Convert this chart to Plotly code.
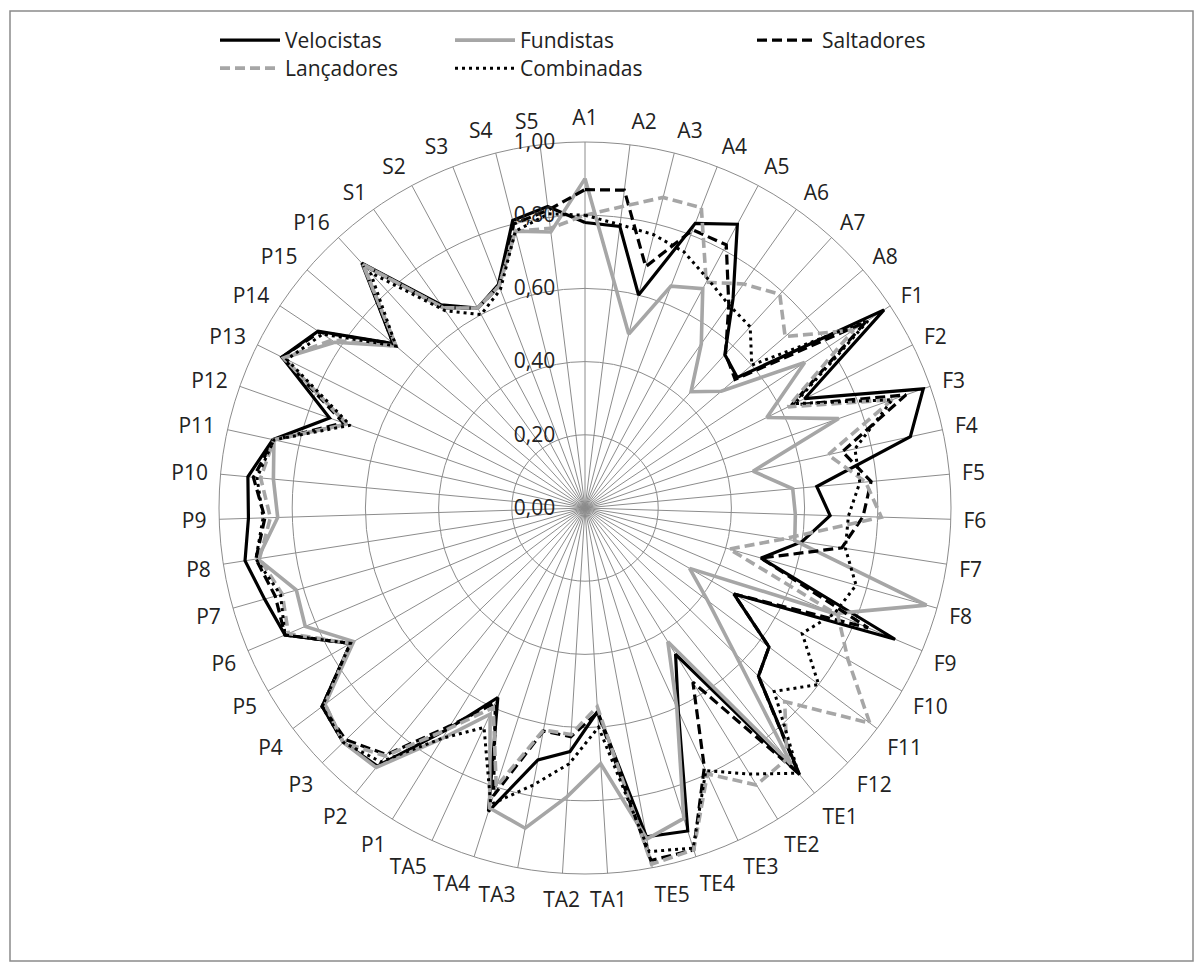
import plotly.graph_objects as go

categories = ["A1","A2","A3","A4","A5","A6","A7","A8",
              "F1","F2","F3","F4","F5","F6","F7","F8","F9","F10","F11","F12",
              "TE1","TE2","TE3","TE4","TE5",
              "TA1","TA2","TA3","TA4","TA5",
              "P1","P2","P3","P4","P5","P6","P7","P8","P9","P10","P11","P12","P13","P14","P15","P16",
              "S1","S2","S3","S4","S5"]

velocistas = [0.78,0.775,0.60,0.834,0.88,0.70,0.567,0.548,
              0.98,0.67,0.98,0.91,0.636,0.67,0.60,0.50,0.92,0.47,0.63,0.66,
              0.935,0.47,0.61,0.926,0.914,
              0.557,0.667,0.70,0.87,0.57,
              0.71,0.905,0.92,0.90,0.74,0.89,0.91,0.94,0.92,0.925,0.873,0.74,0.925,0.875,0.69,0.905,
              0.68,0.62,0.655,0.81,0.83]

fundistas = [0.90,0.63,0.49,0.65,0.68,0.55,0.43,0.49,
             0.72,0.555,0.735,0.47,0.57,0.575,0.58,0.97,0.74,0.33,0.42,0.57,
             0.90,0.43,0.60,0.89,0.92,
             0.70,0.79,0.89,0.86,0.62,
             0.74,0.91,0.92,0.89,0.73,0.83,0.82,0.905,0.84,0.855,0.87,0.69,0.92,0.82,0.68,0.90,
             0.67,0.62,0.65,0.78,0.76]

saltadores = [0.87,0.875,0.68,0.815,0.816,0.68,0.57,0.54,
              0.92,0.63,0.93,0.72,0.785,0.76,0.71,0.50,0.84,0.47,0.63,0.66,
              0.93,0.56,0.78,0.98,0.98,
              0.56,0.626,0.62,0.825,0.586,
              0.70,0.865,0.91,0.90,0.74,0.89,0.88,0.91,0.875,0.91,0.87,0.70,0.925,0.87,0.69,0.90,
              0.67,0.62,0.65,0.80,0.82]

lancadores = [0.80,0.83,0.875,0.88,0.70,0.75,0.79,0.72,
              0.88,0.62,0.89,0.68,0.77,0.81,0.55,0.41,0.75,0.83,0.975,0.76,
              0.88,0.89,0.80,0.98,0.99,
              0.544,0.62,0.617,0.80,0.60,
              0.71,0.87,0.92,0.89,0.74,0.88,0.86,0.90,0.86,0.89,0.87,0.69,0.92,0.83,0.68,0.90,
              0.67,0.62,0.65,0.78,0.77]

combinadas = [0.80,0.78,0.77,0.75,0.71,0.68,0.67,0.60,
              0.93,0.64,0.89,0.755,0.754,0.72,0.72,0.77,0.74,0.685,0.80,0.72,
              0.93,0.855,0.79,0.975,0.955,
              0.60,0.70,0.77,0.85,0.66,
              0.74,0.89,0.92,0.90,0.74,0.89,0.865,0.91,0.88,0.90,0.87,0.68,0.91,0.86,0.68,0.87,
              0.66,0.60,0.64,0.78,0.81]

radial_ticks = [0, 0.2, 0.4, 0.6, 0.8, 1.0]

GRAY = "#A6A6A6"
GRID = "#8C8C8C"
FONT = "Open Sans"

W, H = 1202, 970
OFF = 8  # page body margin; positions below are screen targets minus this offset
cx, cy, R = 585 - OFF, 508 - OFF, 366
ITEMW = 60

# (name, values, colour, dash, width, legend id, legend text start (screen x), legend top (fig y))
series = [
    ("Velocistas", velocistas, "black", "solid", 3.2, "legend", 285, 12),
    ("Fundistas", fundistas, GRAY, "solid", 3.6, "legend2", 520, 12),
    ("Saltadores", saltadores, "black", "10px,5px", 3.2, "legend3", 822, 12),
    ("Lançadores", lancadores, GRAY, "10px,5px", 3.6, "legend4", 285, 40),
    ("Combinadas", combinadas, "black", "3px,4px", 3.0, "legend5", 520, 40),
]

fig = go.Figure()
legends = {}
for name, vals, color, dash, width, leg, lx, ly in series:
    fig.add_trace(go.Scatterpolar(
        r=vals + vals[:1],
        theta=categories + categories[:1],
        mode="lines",
        name=name,
        line=dict(color=color, dash=dash, width=width),
        legend=leg,
        showlegend=True,
    ))
    legends[leg] = dict(x=(lx - OFF - ITEMW - 10) / W, y=1 - ly / H, orientation="v",
                        yanchor="top", xanchor="left", itemwidth=ITEMW,
                        font=dict(family=FONT, size=21, color="#222"),
                        bgcolor="rgba(0,0,0,0)")

fig.update_layout(
    width=W, height=H,
    margin=dict(l=0, r=0, t=0, b=0),
    paper_bgcolor="white",
    showlegend=True,
    separators=",.",
    font=dict(family=FONT, size=21, color="#222"),
    polar=dict(
        domain=dict(x=[(cx - R) / W, (cx + R) / W], y=[1 - (cy + R) / H, 1 - (cy - R) / H]),
        bgcolor="white",
        angularaxis=dict(
            direction="clockwise", rotation=90, type="category",
            categoryorder="array", categoryarray=categories,
            showgrid=True, gridcolor=GRID, gridwidth=1,
            showline=True, linecolor=GRID, linewidth=1,
            ticks="outside", ticklen=8, tickcolor="rgba(0,0,0,0)",
            tickfont=dict(family=FONT, size=21, color="#222"),
        ),
        radialaxis=dict(
            range=[0, 1], tickvals=radial_ticks, tickformat=".2f",
            angle=90, side="counterclockwise",
            showgrid=True, gridcolor=GRID, gridwidth=1,
            showline=False, ticks="outside", ticklen=22, tickcolor="rgba(0,0,0,0)",
            tickfont=dict(family=FONT, size=21, color="#222"),
            tickangle=90,
        ),
    ),
    shapes=[dict(type="rect", xref="paper", yref="paper",
                 x0=(10 - OFF) / W, x1=(1193 - OFF) / W,
                 y0=1 - (961 - OFF) / H, y1=1 - (11 - OFF) / H,
                 line=dict(color="#8A8A8A", width=1.5), fillcolor="rgba(0,0,0,0)")],
    **legends,
)

fig.write_html("out.html")
